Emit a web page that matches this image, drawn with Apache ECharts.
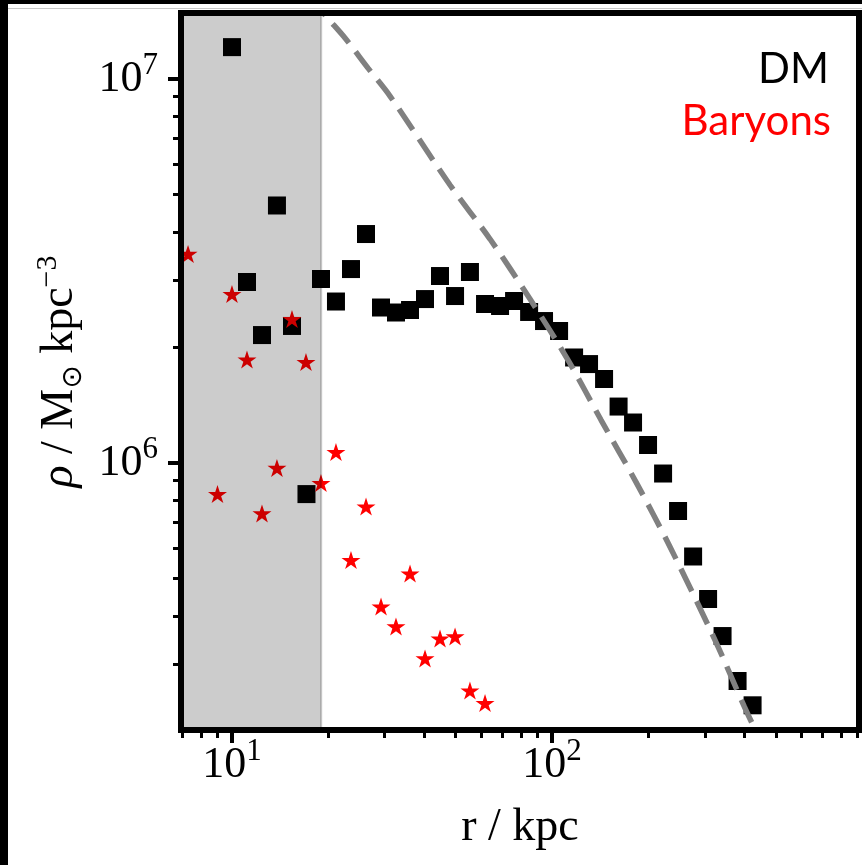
<!DOCTYPE html>
<html>
<head>
<meta charset="utf-8">
<script src="https://cdn.jsdelivr.net/npm/echarts@6/dist/echarts.min.js"></script>
<style>
  html, body { margin: 0; padding: 0; background: #fff; }
  #chart { width: 862px; height: 865px; }
</style>
</head>
<body>
<div id="chart"></div>
<script>
// Radial density profile: dark matter vs baryons, with a reference halo profile

const xRange = [6.93, 910];          // r / kpc
const yRange = [2.017e5, 1.486e7];   // rho / Msun kpc^-3
const innerRegion = [6.93, 19.0];    // shaded inner region

const dmRadius = [8.06, 10.0, 11.14, 12.41, 13.82, 15.4, 17.09, 18.97, 21.13, 23.54,
  26.23, 29.22, 32.54, 36.0, 40.1, 44.67, 49.77, 55.4, 61.75, 68.8, 76.1, 84.8, 94.4,
  105.2, 117.2, 130.5, 145.4, 161.4, 179.1, 199.5, 222.3, 247.6, 275.9, 307.3, 341.0,
  379.9, 423.2];
const dmDensity = [1.53e7, 1.211e7, 2.961e6, 2.154e6, 4.685e6, 2.275e6, 8.30e5, 3.015e6,
  2.634e6, 3.20e6, 3.948e6, 2.541e6, 2.466e6, 2.503e6, 2.673e6, 3.069e6, 2.722e6,
  3.144e6, 2.595e6, 2.564e6, 2.642e6, 2.474e6, 2.343e6, 2.207e6, 1.883e6, 1.81e6,
  1.655e6, 1.403e6, 1.275e6, 1.114e6, 9.39e5, 7.50e5, 5.709e5, 4.424e5, 3.543e5,
  2.706e5, 2.339e5];

const baryonRadius = [7.29, 9.01, 10.0, 11.14, 12.41, 13.82, 15.4, 17.03, 18.97, 21.13,
  23.54, 26.23, 29.22, 32.54, 36.0, 40.1, 44.67, 49.77, 55.4, 61.75];
const baryonDensity = [3.503e6, 8.30e5, 2.755e6, 1.860e6, 7.39e5, 9.71e5, 2.371e6,
  1.832e6, 8.87e5, 1.068e6, 5.59e5, 7.70e5, 4.23e5, 3.752e5, 5.155e5, 3.097e5,
  3.49e5, 3.534e5, 2.556e5, 2.371e5];

const profileRadius = [17.53, 19.53, 22.55, 26.61, 31.17, 48.0, 64.0, 85.35, 112.2,
  142.3, 183.0, 232.1, 321.9, 398.1, 446.7];
const profileDensity = [1.645e7, 1.468e7, 1.279e7, 1.068e7, 9.03e6, 5.297e6, 3.831e6,
  2.673e6, 1.854e6, 1.294e6, 8.92e5, 6.116e5, 3.48e5, 2.329e5, 1.90e5];

const xMajorTicks = [10, 100];
const xMinorTicks = [7, 8, 9, 20, 30, 40, 50, 60, 70, 80, 90,
  200, 300, 400, 500, 600, 700, 800, 900];
const yMajorTicks = [1e6, 1e7];
const yMinorTicks = [3e5, 4e5, 5e5, 6e5, 7e5, 8e5, 9e5,
  2e6, 3e6, 4e6, 5e6, 6e6, 7e6, 8e6, 9e6];

const legendLabels = ['DM', 'Baryons'];

const zip = (a, b) => a.map((v, i) => [v, b[i]]);

const serif = "'Liberation Serif', 'DejaVu Serif', serif";
const starPath = 'path://M50 0 L61.23 34.55 L97.55 34.55 L68.17 55.9 L79.39 90.45 ' +
  'L50 69.1 L20.61 90.45 L31.83 55.9 L2.45 34.55 L38.77 34.55 Z';

const powerLabel = {
  formatter: v => '{b|10}{s|' + Math.round(Math.log10(v)) + '}',
  rich: {
    b: { fontSize: 44, lineHeight: 44, fontFamily: serif, color: '#000' },
    s: { fontSize: 31, lineHeight: 31, fontFamily: serif, color: '#000', padding: [0, 0, 26, 0] }
  }
};

function logAxis(range, extra) {
  return Object.assign({
    type: 'log', logBase: 10, min: range[0], max: range[1], z: 10,
    splitLine: { show: false }, minorTick: { show: false }, minorSplitLine: { show: false },
    axisLine: { show: false, onZero: false },
    axisTick: { show: false },
    axisLabel: { show: false }
  }, extra);
}

const frameLine = { show: true, onZero: false, lineStyle: { color: '#000', width: 6, cap: 'square' } };

const chart = echarts.init(document.getElementById('chart'), null, { renderer: 'canvas' });

chart.setOption({
  animation: false,
  backgroundColor: '#fff',
  grid: { left: 181, right: 3, top: 13, bottom: 135, containLabel: false, outerBoundsMode: 'none' },
  xAxis: [
    logAxis(xRange, {
      position: 'bottom',
      axisLine: frameLine,
      axisTick: { show: true, customValues: xMajorTicks, length: 13, lineStyle: { color: '#000', width: 4 } },
      axisLabel: Object.assign({ show: true, customValues: xMajorTicks, margin: 13 }, powerLabel),
      name: 'r / kpc', nameLocation: 'middle', nameGap: 75,
      nameTextStyle: { fontSize: 46, lineHeight: 46, fontFamily: serif, color: '#000' }
    }),
    logAxis(xRange, {
      position: 'bottom',
      axisTick: { show: true, customValues: xMinorTicks, length: 8, lineStyle: { color: '#000', width: 3 } }
    }),
    logAxis(xRange, { position: 'top', axisLine: frameLine })
  ],
  yAxis: [
    logAxis(yRange, {
      position: 'left',
      axisLine: frameLine,
      axisTick: { show: true, customValues: yMajorTicks, length: 13, lineStyle: { color: '#000', width: 4 } },
      axisLabel: Object.assign({ show: true, customValues: yMajorTicks, margin: 23 }, powerLabel),
      name: '{rho|ρ}{a| / M}{sub|⊙}{a| kpc}{sup|−3}',
      nameLocation: 'middle', nameGap: 97, nameRotate: 90,
      nameTextStyle: {
        rich: {
          rho: { fontSize: 46, lineHeight: 46, fontFamily: serif, fontStyle: 'italic', color: '#000' },
          a: { fontSize: 46, lineHeight: 46, fontFamily: serif, color: '#000' },
          sub: { fontSize: 28, lineHeight: 28, fontFamily: "'DejaVu Sans', " + serif, color: '#000', padding: [28, 0, 0, 0] },
          sup: { fontSize: 30, lineHeight: 30, fontFamily: serif, color: '#000', padding: [0, 0, 23, 0] }
        }
      }
    }),
    logAxis(yRange, {
      position: 'left',
      axisTick: { show: true, customValues: yMinorTicks, length: 8, lineStyle: { color: '#000', width: 3 } }
    }),
    logAxis(yRange, { position: 'right', axisLine: frameLine })
  ],
  series: [
    {
      name: legendLabels[0], type: 'scatter', z: 2, silent: true,
      symbol: 'rect', symbolSize: 18,
      itemStyle: { color: '#000', opacity: 1 },
      data: zip(dmRadius, dmDensity)
    },
    {
      name: legendLabels[1], type: 'scatter', z: 2, silent: true,
      symbol: starPath, symbolSize: [19, 18],
      itemStyle: { color: '#ff0000', opacity: 1 },
      data: zip(baryonRadius, baryonDensity)
    },
    {
      type: 'line', z: 3, silent: true, clip: true,
      showSymbol: false, symbol: 'none', smooth: 0.3,
      lineStyle: { color: '#808080', width: 5.5, type: [25, 11], cap: 'butt' },
      data: zip(profileRadius, profileDensity)
    },
    {
      type: 'custom', z: 4, silent: true, clip: true,
      data: [innerRegion],
      encode: { x: [0, 1] },
      renderItem: function (params, api) {
        const p0 = api.coord([api.value(0), yRange[1]]);
        const p1 = api.coord([api.value(1), yRange[0]]);
        return {
          type: 'rect',
          shape: { x: p0[0], y: p0[1], width: p1[0] - p0[0], height: p1[1] - p0[1] },
          style: { fill: 'rgba(0,0,0,0.2)', stroke: 'rgba(0,0,0,0.2)', lineWidth: 2 }
        };
      }
    }
  ],
  graphic: [
    { type: 'rect', z: 100, shape: { x: 0, y: 0, width: 862, height: 4 }, style: { fill: '#000' } },
    { type: 'rect', z: 100, shape: { x: 0, y: 0, width: 8, height: 865 }, style: { fill: '#000' } },
    { type: 'line', z: 100, shape: { x1: 8, y1: 8.5, x2: 862, y2: 8.5 }, style: { stroke: '#c8c8c8', lineWidth: 1 } },
    {
      type: 'text', z: 100, x: 829, y: 69,
      style: { text: legendLabels[0], font: '42px Lato', fill: '#000',
        align: 'right', verticalAlign: 'middle', textAlign: 'right', textVerticalAlign: 'middle' }
    },
    {
      type: 'text', z: 100, x: 831, y: 121,
      style: { text: legendLabels[1], font: '42px Lato', fill: '#ff0000',
        align: 'right', verticalAlign: 'middle', textAlign: 'right', textVerticalAlign: 'middle' }
    }
  ]
});
</script>
</body>
</html>
